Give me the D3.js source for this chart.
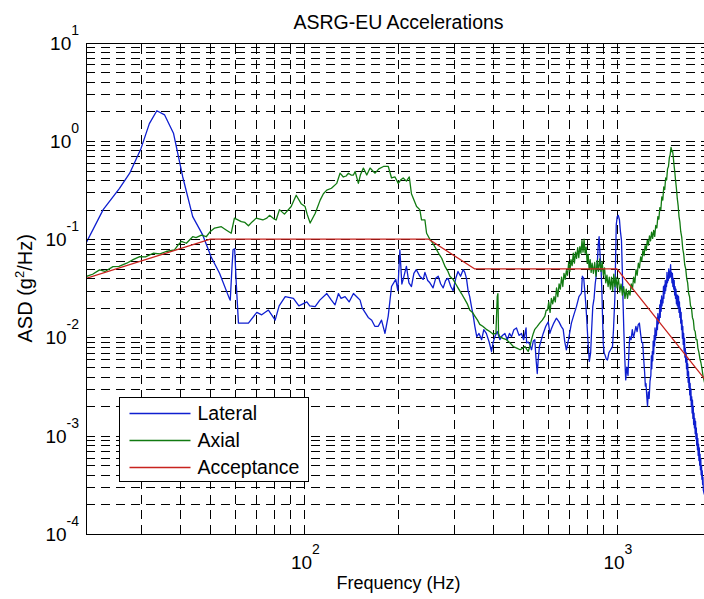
<!DOCTYPE html>
<html>
<head>
<meta charset="utf-8">
<script src="https://cdn.jsdelivr.net/npm/d3@7/dist/d3.min.js"></script>
<style>
	body { margin: 0; background: #fff; }
	svg { display: block; font-family: "Liberation Sans", Arial, Helvetica, sans-serif; }
</style>
</head>
<body>
<div id="chart"></div>
<script>
/*
 * ASD spectra: [frequency (Hz), g^2/Hz]
 */
var lateral = [
	[20,0.091],[22.7,0.2],[25.6,0.33],[27.6,0.47],[30,0.84],[31.9,1.5],[33.7,2.03],[35.7,1.84],[38.1,1.2],
	[40.8,0.43],[43.9,0.17],[47.3,0.11],[50.3,0.066],[53.5,0.045],[57.5,0.025],[57.9,0.024],[58.6,0.05],
	[59.1,0.078],[59.8,0.08],[60.5,0.036],[61.5,0.014],[66.2,0.014],[70.4,0.018],[73,0.017],[76.7,0.019],
	[80.6,0.015],[83,0.021],[86.8,0.026],[92.2,0.025],[96,0.021],[101.8,0.023],[104,0.021],[108.2,0.0206],
	[112,0.024],[117.9,0.028],[122,0.024],[125.3,0.0215],[128.5,0.028],[131,0.025],[134.9,0.026],[139,0.023],
	[143.5,0.028],[147,0.026],[150.7,0.024],[153,0.02],[156.3,0.018],[160,0.016],[164.2,0.015],[168,0.013],
	[172.3,0.013],[176.5,0.015],[181,0.011],[185.4,0.0165],[190,0.033],[196,0.039],[199,0.03],[202,0.078],
	[205,0.035],[207,0.039],[212,0.053],[216,0.036],[220,0.033],[224,0.045],[228,0.049],[234,0.042],[240,0.039],
	[243,0.046],[248,0.038],[252,0.036],[258,0.032],[263,0.04],[268,0.042],[273,0.035],[278,0.032],[283,0.038],
	[288,0.04],[294,0.033],[299,0.03],[305,0.04],[310,0.047],[316,0.042],[322,0.049],[326,0.046],[330,0.04],
	[334,0.03],[338,0.026],[343,0.02],[347,0.0165],[351,0.013],[356,0.0102],[362,0.011],[369,0.0095],[375,0.012],
	[382,0.011],[390,0.009],[397,0.0072],[402,0.009],[407,0.0102],[414,0.0115],[422,0.0095],[430,0.0105],
	[438,0.011],[446,0.0095],[453,0.011],[460,0.0102],[468,0.012],[477,0.0125],[486,0.0105],[495,0.011],
	[503,0.0095],[512,0.0125],[514,0.0088],[520,0.009],[526,0.0085],[533,0.0075],[540,0.0092],[546,0.0095],
	[551,0.006],[556,0.0043],[560,0.006],[565,0.0081],[573,0.0095],[581,0.011],[592,0.013],[603,0.0144],
	[610,0.011],[616,0.0121],[628,0.014],[640,0.0157],[652,0.0145],[664,0.0129],[673,0.0121],[681,0.009],
	[689,0.0075],[700,0.0095],[715,0.014],[728,0.017],[742,0.0206],[756,0.026],[770,0.0282],[775,0.042],
	[783,0.04],[790,0.028],[795,0.022],[800,0.016],[808,0.009],[816,0.0057],[824,0.007],[830,0.012],[837,0.0206],
	[845,0.025],[852,0.035],[858,0.042],[866,0.06],[872,0.09],[877,0.106],[883,0.07],[890,0.0487],[895,0.03],
	[900,0.015],[904,0.0088],[910,0.007],[918,0.0065],[925,0.006],[933,0.0059],[943,0.007],[955,0.0075],
	[968,0.0081],[975,0.012],[985,0.026],[990,0.06],[995,0.14],[1002,0.17],[1010,0.175],[1019,0.157],
	[1026,0.12],[1034,0.098],[1040,0.05],[1045,0.026],[1052,0.012],[1060,0.006],[1067,0.0037],[1075,0.005],
	[1085,0.0041],[1092,0.007],[1099,0.0102],[1110,0.0095],[1120,0.012],[1130,0.01],[1138,0.011],[1150,0.013],
	[1160,0.0115],[1170,0.0135],[1180,0.014],[1190,0.011],[1200,0.009],[1209,0.0088],[1218,0.006],[1226,0.0045],
	[1233,0.0032],[1239,0.0034],[1246,0.0025],[1253,0.002],[1260,0.0028],[1268,0.0024],[1276,0.0036],
	[1284,0.0041],[1289,0.0065],[1293,0.0048],[1298,0.0072],[1302,0.0058],[1306,0.0092],[1311,0.0068],
	[1316,0.0105],[1320,0.0082],[1324,0.0125],[1329,0.0095],[1333,0.0118],[1338,0.0105],[1343,0.0158],
	[1348,0.012],[1352,0.0175],[1357,0.0138],[1362,0.0165],[1366,0.0148],[1371,0.0215],[1376,0.016],
	[1380,0.024],[1385,0.0185],[1390,0.0265],[1394,0.021],[1399,0.025],[1404,0.0225],[1409,0.033],[1413,0.025],
	[1418,0.034],[1423,0.028],[1428,0.038],[1432,0.03],[1437,0.036],[1441,0.033],[1446,0.046],[1451,0.036],
	[1456,0.042],[1460,0.038],[1465,0.05],[1470,0.04],[1475,0.047],[1480,0.041],[1485,0.055],[1490,0.042],
	[1495,0.046],[1500,0.036],[1505,0.045],[1510,0.033],[1515,0.04],[1520,0.031],[1525,0.038],[1530,0.027],
	[1535,0.033],[1540,0.025],[1545,0.031],[1550,0.022],[1555,0.027],[1560,0.021],[1565,0.027],
	[1570,0.02],[1575,0.026],[1580,0.018],[1585,0.023],[1590,0.016],[1595,0.02],[1600,0.014],[1605,0.018],
	[1610,0.012],[1615,0.015],[1620,0.0098],[1625,0.013],[1630,0.0085],[1635,0.011],[1640,0.0073],
	[1645,0.0098],[1650,0.0063],[1655,0.0078],[1660,0.0056],[1665,0.007],[1670,0.0048],[1675,0.0061],
	[1680,0.0041],[1685,0.0054],[1690,0.0035],[1695,0.0045],[1700,0.0031],[1705,0.0039],[1710,0.0026],
	[1715,0.0034],[1720,0.0023],[1725,0.003],[1730,0.002],[1735,0.0025],[1740,0.0017],[1745,0.0023],
	[1750,0.0015],[1755,0.002],[1760,0.0013],[1765,0.0017],[1770,0.0012],[1775,0.0015],[1780,0.00105],
	[1785,0.0014],[1790,0.00093],[1795,0.0012],[1800,0.0008],[1805,0.00105],[1810,0.00072],[1815,0.00094],
	[1820,0.00063],[1825,0.00082],[1830,0.00056],[1835,0.00075],[1840,0.0005],[1845,0.00065],[1850,0.00045],
	[1855,0.00058],[1860,0.0004],[1865,0.0005],[1870,0.00036],[1875,0.00044],[1880,0.00032],[1885,0.00038],
	[1890,0.00028],[1900,0.00026],[1950,0.0002]
];

var axial = [
	[20,0.0417],[21,0.044],[22.1,0.0487],[23,0.047],[24.4,0.0526],[25.5,0.053],[27,0.057],[28.3,0.062],
	[29.7,0.0665],[31,0.066],[32.8,0.072],[34.5,0.071],[36.1,0.075],[38.4,0.078],[39.5,0.088],[40.4,0.095],
	[41.9,0.091],[43.9,0.106],[45,0.104],[46.8,0.11],[48.5,0.106],[50,0.12],[51.6,0.13],[54.2,0.134],[56,0.125],
	[58.3,0.115],[59.7,0.164],[62.8,0.151],[64.5,0.148],[66.2,0.137],[68,0.15],[70.1,0.164],[73.6,0.157],
	[75.8,0.164],[77.3,0.175],[80.2,0.16],[81.2,0.157],[83.2,0.2],[86.3,0.18],[90.7,0.215],[94.1,0.28],
	[97.6,0.23],[100.5,0.215],[102,0.18],[104.3,0.146],[108.2,0.183],[112.3,0.25],[115,0.29],[117.9,0.316],
	[122,0.33],[126.9,0.37],[130,0.47],[133.2,0.43],[136,0.44],[138.3,0.47],[141,0.45],[143.5,0.45],
	[145.3,0.49],[148.8,0.37],[151,0.45],[154.4,0.53],[158.3,0.45],[162.2,0.53],[165,0.5],[168.3,0.47],
	[173,0.52],[179,0.55],[185.5,0.55],[190,0.42],[194.9,0.43],[199.7,0.37],[203,0.4],[207,0.42],[212,0.39],
	[216.6,0.43],[220,0.29],[228.5,0.215],[234,0.2],[237,0.157],[243,0.157],[246,0.115],[252,0.1],[258,0.09],
	[265,0.078],[270,0.07],[275,0.064],[282,0.0526],[288,0.047],[292,0.042],[299,0.039],[305,0.035],[310,0.032],
	[318,0.028],[326,0.0244],[332,0.022],[338,0.019],[345,0.018],[351,0.0165],[358,0.015],[364,0.0136],
	[372,0.013],[382,0.0121],[392,0.0115],[402,0.0108],[410,0.011],[414,0.026],[416,0.028],[418,0.011],
	[422,0.0102],[432,0.0098],[443,0.0095],[455,0.0088],[466,0.0081],[478,0.0078],[490,0.0075],[500,0.0078],
	[508,0.0081],[514,0.0076],[520,0.0072],[526,0.008],[533,0.0095],[540,0.011],[546,0.0121],[556,0.013],
	[566,0.014],[577,0.015],[588,0.0165],[594,0.019],
	[600,0.019],[605,0.023],[611,0.018],[617,0.025],[623,0.022],[629,0.026],[635,0.023],[641,0.032],[647,0.026],
	[653,0.035],[659,0.031],[665,0.041],[671,0.033],[677,0.045],[683,0.039],[689,0.048],[695,0.043],[701,0.059],
	[707,0.047],[713,0.062],[719,0.054],[725,0.072],[731,0.057],[737,0.074],[743,0.064],[749,0.082],[755,0.065],
	[761,0.084],[767,0.072],[773,0.097],[779,0.074],[785,0.1],[791,0.072],[797,0.083],[803,0.057],[809,0.07],
	[815,0.049],[821,0.062],[827,0.046],[833,0.057],[841,0.045],[849,0.058],[857,0.042],[865,0.061],[873,0.047],
	[881,0.063],[889,0.047],[897,0.059],[905,0.043],[913,0.051],[921,0.036],[929,0.043],[937,0.033],[945,0.041],
	[953,0.031],[961,0.041],[969,0.03],[977,0.044],[985,0.033],[993,0.041],[1001,0.032],[1011,0.04],
	[1021,0.029],[1031,0.035],[1041,0.027],[1051,0.033],[1061,0.025],[1071,0.031],[1081,0.025],[1091,0.03],
	[1101,0.027],[1111,0.035],[1121,0.031],[1131,0.041],[1141,0.036],[1151,0.049],[1161,0.043],[1171,0.057],
	[1181,0.051],[1191,0.066],[1201,0.06],[1211,0.077],[1221,0.068],[1231,0.086],[1241,0.077],[1251,0.098],
	[1261,0.087],[1271,0.108],[1281,0.096],[1291,0.118],[1301,0.102],[1311,0.123],[1321,0.107],[1331,0.138],
	[1342,0.13],[1352,0.17],[1362,0.16],[1372,0.21],[1382,0.2],[1392,0.27],[1402,0.25],[1412,0.34],[1422,0.32],
	[1432,0.42],[1442,0.4],[1452,0.52],[1462,0.55],[1472,0.68],[1480,0.72],[1490,0.86],[1498,0.78],[1506,0.8],
	[1514,0.7],[1522,0.58],[1530,0.5],[1540,0.4],[1550,0.33],[1560,0.26],[1570,0.22],[1580,0.17],[1590,0.15],
	[1600,0.12],[1612,0.105],[1624,0.08],[1636,0.07],[1648,0.055],[1660,0.05],[1672,0.04],[1684,0.036],
	[1696,0.028],[1708,0.026],[1720,0.021],[1732,0.02],[1744,0.016],[1756,0.015],[1768,0.012],[1780,0.0115],
	[1792,0.0095],[1804,0.0095],[1816,0.0078],[1830,0.007],[1845,0.006],[1858,0.0055],[1872,0.0048],
	[1887,0.004],[1920,0.0032],[1960,0.0028],[2000,0.0025]
];

var acceptance = [[20,0.04],[50,0.1],[250,0.1],[350,0.05],[1000,0.05],[2000,0.003125]];

var seriesNames = ['Lateral', 'Axial', 'Acceptance'];
var seriesColors = ['#0f1fd0', '#117a11', '#c8231e'];

var xDomain = [20, 2000];
var yDomain = [1e-4, 10];
var xMajor = [100, 1000];
var yMajor = [1e-4, 1e-3, 1e-2, 1e-1, 1, 10];

var width = 704, height = 599;
var plot = {left: 86, right: 711, top: 42.7, bottom: 534};

var svg = d3.select('#chart').append('svg')
	.attr('width', width)
	.attr('height', height);

svg.append('rect').attr('width', width).attr('height', height).attr('fill', '#fff');

var x = d3.scaleLog().domain(xDomain).range([plot.left, plot.right]);
var y = d3.scaleLog().domain(yDomain).range([plot.bottom, plot.top]);

svg.append('clipPath').attr('id', 'clip')
	.append('rect')
		.attr('x', plot.left).attr('y', plot.top)
		.attr('width', plot.right-plot.left).attr('height', plot.bottom-plot.top);

/*
 * dashed grid on every major and minor tick
 */
var grid = svg.append('g')
	.attr('stroke', '#000')
	.attr('stroke-width', 1)
	.attr('stroke-dasharray', '9,6')
	.attr('shape-rendering', 'crispEdges');

grid.selectAll('.vgrid')
	.data(x.ticks())
		.enter()
			.append('line')
				.attr('class', 'vgrid')
				.attr('x1', function(d) { return Math.round(x(d))+0.5; })
				.attr('x2', function(d) { return Math.round(x(d))+0.5; })
				.attr('y1', plot.bottom)
				.attr('y2', plot.top);

grid.selectAll('.hgrid')
	.data(y.ticks())
		.enter()
			.append('line')
				.attr('class', 'hgrid')
				.attr('y1', function(d) { return Math.round(y(d))+0.5; })
				.attr('y2', function(d) { return Math.round(y(d))+0.5; })
				.attr('x1', plot.left)
				.attr('x2', plot.right);

/*
 * curves
 */
var line = d3.line()
	.x(function(d) { return x(d[0]); })
	.y(function(d) { return y(d[1]); });

var curves = svg.append('g').attr('clip-path', 'url(#clip)');

[lateral, axial, acceptance].forEach(function(data, i) {
	curves.append('path')
		.datum(data)
		.attr('fill', 'none')
		.attr('stroke', seriesColors[i])
		.attr('stroke-width', 1.3)
		.attr('stroke-linejoin', 'round')
		.attr('d', line);
});

/*
 * axes box and ticks
 */
var axes = svg.append('g')
	.attr('stroke', '#000')
	.attr('stroke-width', 1)
	.attr('fill', 'none')
	.attr('shape-rendering', 'crispEdges');

axes.append('rect')
	.attr('x', plot.left+0.5).attr('y', Math.round(plot.top)+0.5)
	.attr('width', plot.right-plot.left).attr('height', plot.bottom-Math.round(plot.top));

axes.selectAll('.xtick')
	.data(x.ticks())
		.enter()
			.append('path')
				.attr('class', 'xtick')
				.attr('d', function(d) {
					var px = Math.round(x(d))+0.5;
					return 'M'+px+','+plot.bottom+'V'+(plot.bottom-6)+'M'+px+','+plot.top+'V'+(plot.top+6);
				});

axes.selectAll('.ytick')
	.data(y.ticks())
		.enter()
			.append('path')
				.attr('class', 'ytick')
				.attr('d', function(d) {
					var py = Math.round(y(d))+0.5;
					return 'M'+plot.left+','+py+'H'+(plot.left+6);
				});

/*
 * tick labels as 10 with superscript exponent
 */
var xLabels = svg.selectAll('.xlabel')
	.data(xMajor)
		.enter()
			.append('text')
				.attr('class', 'xlabel')
				.attr('text-anchor', 'middle')
				.attr('x', function(d) { return x(d)+1; })
				.attr('y', 569)
				.attr('fill', '#000');
xLabels.append('tspan').attr('font-size', 19).text('10');
xLabels.append('tspan').attr('font-size', 14).attr('dy', -15)
	.text(function(d) { return Math.round(Math.log10(d)); });

var yLabels = svg.selectAll('.ylabel')
	.data(yMajor)
		.enter()
			.append('text')
				.attr('class', 'ylabel')
				.attr('text-anchor', 'end')
				.attr('x', 79)
				.attr('y', function(d) { return y(d)+7; })
				.attr('fill', '#000');
yLabels.append('tspan').attr('font-size', 19).text('10');
yLabels.append('tspan').attr('font-size', 14).attr('dy', -15)
	.text(function(d) { return Math.round(Math.log10(d)); });

/*
 * title and axis names
 */
svg.append('text')
	.attr('x', (plot.left+plot.right)/2)
	.attr('y', 29)
	.attr('text-anchor', 'middle')
	.attr('font-size', 19.5)
	.text('ASRG-EU Accelerations');

svg.append('text')
	.attr('x', (plot.left+plot.right)/2)
	.attr('y', 589)
	.attr('text-anchor', 'middle')
	.attr('font-size', 18)
	.text('Frequency (Hz)');

var yTitle = svg.append('text')
	.attr('transform', 'translate(32,' + ((plot.top+plot.bottom)/2) + ') rotate(-90)')
	.attr('text-anchor', 'middle')
	.attr('font-size', 20);
yTitle.append('tspan').text('ASD (g');
yTitle.append('tspan').attr('font-size', 13).attr('dy', -8).text('2');
yTitle.append('tspan').attr('dy', 8).text('/Hz)');

/*
 * legend
 */
var legendItems = seriesNames.map(function(name, i) {
	return {name: name, color: seriesColors[i], row: i};
});

var legend = svg.append('g').attr('transform', 'translate(119.5,397.5)');

legend.append('rect')
	.attr('width', 189).attr('height', 84)
	.attr('fill', '#fff').attr('stroke', '#000').attr('stroke-width', 1);

var entries = legend.selectAll('.entry')
	.data(legendItems)
		.enter()
			.append('g')
				.attr('class', 'entry')
				.attr('transform', function(d) { return 'translate(0,' + (16+d.row*27) + ')'; });

entries.append('line')
	.attr('x1', 10).attr('x2', 71)
	.attr('stroke', function(d) { return d.color; })
	.attr('stroke-width', 1.3);

entries.append('text')
	.attr('x', 78)
	.attr('y', 6.5)
	.attr('font-size', 19.5)
	.text(function(d) { return d.name; });
</script>
</body>
</html>
